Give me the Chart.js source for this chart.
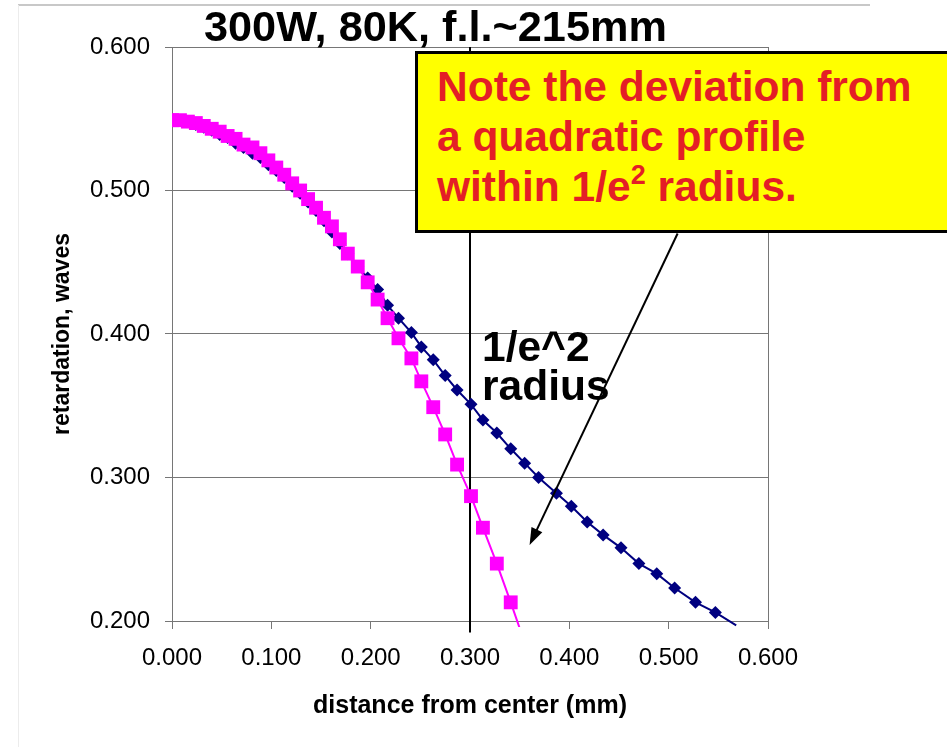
<!DOCTYPE html>
<html>
<head>
<meta charset="utf-8">
<script src="https://cdn.jsdelivr.net/npm/chart.js@4.4.0/dist/chart.umd.min.js"></script>
<style>
  html, body { margin: 0; padding: 0; background: #fff; }
  #wrap { position: relative; width: 947px; height: 747px; overflow: hidden; }
  #title { position: absolute; left: 204px; top: 6px; font: bold 42px "Liberation Sans", Arial, sans-serif; line-height: 42px;
           white-space: nowrap; color: #000; transform: scaleX(1.03); transform-origin: left top; }
  #note { position: absolute; left: 415px; top: 51px; width: 560px; height: 182px; box-sizing: border-box;
          background: #ffff00; border: 3px solid #000; color: #e41e26; white-space: nowrap;
          font: bold 42.5px "Liberation Sans", Arial, sans-serif; line-height: 50px; padding: 8px 0 0 19px; }
  #note .sup { font-size: 27px; position: relative; top: -17px; }
  #radius { position: absolute; left: 482px; top: 327px; font: bold 42.5px "Liberation Sans", Arial, sans-serif; line-height: 39px; white-space: nowrap; color: #000; }
</style>
</head>
<body>
<div id="wrap">
  <canvas id="chart" width="947" height="747"></canvas>
  <div id="title">300W, 80K, f.l.~215mm</div>
  <div id="note">Note the deviation from<br>a quadratic profile<br>within 1/e<span class="sup">2</span> radius.</div>
  <div id="radius">1/e^2<br>radius</div>
</div>
<script>
// distance from center (mm), shared by both series
var distance = [0.000, 0.008, 0.016, 0.024, 0.032, 0.040, 0.048, 0.056, 0.064, 0.072,
                0.081, 0.089, 0.097, 0.105, 0.113, 0.121, 0.129, 0.137, 0.145, 0.153,
                0.161, 0.169, 0.177, 0.187, 0.197, 0.207, 0.217, 0.228, 0.241, 0.251,
                0.263, 0.275, 0.287, 0.301, 0.313, 0.327, 0.341, 0.355, 0.369, 0.387,
                0.402, 0.418, 0.434, 0.452, 0.470, 0.488, 0.506, 0.527, 0.547, 0.568];

// navy diamonds
var retardNavy = [0.549, 0.549, 0.548, 0.546, 0.544, 0.542, 0.539, 0.537, 0.533, 0.530,
                  0.526, 0.523, 0.518, 0.514, 0.509, 0.503, 0.498, 0.492, 0.486, 0.479,
                  0.471, 0.463, 0.456, 0.447, 0.439, 0.431, 0.420, 0.411, 0.401, 0.391,
                  0.382, 0.371, 0.361, 0.351, 0.340, 0.331, 0.320, 0.310, 0.300, 0.289,
                  0.280, 0.269, 0.260, 0.251, 0.240, 0.233, 0.223, 0.213, 0.206, 0.197];

// magenta squares
var retardMagenta = [0.549, 0.549, 0.548, 0.547, 0.545, 0.543, 0.541, 0.538, 0.536, 0.532,
                     0.530, 0.526, 0.521, 0.516, 0.511, 0.505, 0.500, 0.494, 0.488, 0.481,
                     0.475, 0.466, 0.456, 0.447, 0.436, 0.424, 0.411, 0.397, 0.383, 0.367,
                     0.349, 0.330, 0.309, 0.287, 0.265, 0.240, 0.213, 0.185];

// 1/e^2 radius marker
var radiusX = [0.3, 0.3];
var radiusY = [0.6, 0.192];

var xTicks = [0, 0.1, 0.2, 0.3, 0.4, 0.5, 0.6];
var yTicks = [0.2, 0.3, 0.4, 0.5, 0.6];

function pts(xs, ys) {
    var out = [];
    for (var i = 0; i < ys.length; i++) out.push({ x: xs[i], y: ys[i] });
    return out;
}

var FONT = "'Liberation Sans', Arial, sans-serif";
var GRID = '#767676';

// hide markers that fall below the axis (line still runs a bit past it)
function markerSize(r) {
    return function(c) { return c.raw && c.raw.y < 0.2 ? 0 : r; };
}

var frame = {
    id: 'frame',
    beforeDraw: function(chart) {
        var ctx = chart.ctx;
        ctx.save();
        ctx.fillStyle = '#fff';
        ctx.fillRect(0, 0, chart.width, chart.height);
        ctx.strokeStyle = '#c8c8c8';
        ctx.lineWidth = 2;
        ctx.beginPath(); ctx.moveTo(18, 5); ctx.lineTo(870, 5); ctx.stroke();
        ctx.strokeStyle = '#ececec';
        ctx.lineWidth = 1;
        ctx.beginPath(); ctx.moveTo(18.5, 5); ctx.lineTo(18.5, chart.height); ctx.stroke();
        ctx.restore();
    },
    beforeDatasetsDraw: function(chart) {
        var a = chart.chartArea, ctx = chart.ctx;
        ctx.save();
        ctx.strokeStyle = GRID;
        ctx.lineWidth = 1;
        ctx.strokeRect(Math.round(a.left) + 0.5, Math.round(a.top) + 0.5,
                       Math.round(a.right - a.left), Math.round(a.bottom - a.top));
        ctx.restore();
    },
    afterDatasetsDraw: function(chart) {
        // arrow from the note box down to the gap between the curves
        var xs = chart.scales.x, ys = chart.scales.y, ctx = chart.ctx;
        var x0 = xs.getPixelForValue(0.509), y0 = ys.getPixelForValue(0.470);
        var x1 = xs.getPixelForValue(0.360), y1 = ys.getPixelForValue(0.253);
        var dx = x1 - x0, dy = y1 - y0, len = Math.sqrt(dx * dx + dy * dy);
        var ux = dx / len, uy = dy / len;
        ctx.save();
        ctx.strokeStyle = '#000';
        ctx.fillStyle = '#000';
        ctx.lineWidth = 2;
        ctx.beginPath();
        ctx.moveTo(x0, y0);
        ctx.lineTo(x1 - ux * 12, y1 - uy * 12);
        ctx.stroke();
        ctx.beginPath();
        ctx.moveTo(x1, y1);
        ctx.lineTo(x1 - ux * 17 - uy * 6, y1 - uy * 17 + ux * 6);
        ctx.lineTo(x1 - ux * 17 + uy * 6, y1 - uy * 17 - ux * 6);
        ctx.closePath();
        ctx.fill();
        ctx.restore();
    }
};

new Chart(document.getElementById('chart').getContext('2d'), {
    type: 'scatter',
    data: {
        datasets: [{
            label: 'magenta',
            data: pts(distance, retardMagenta),
            showLine: true,
            borderColor: '#ff00ff',
            borderWidth: 2,
            backgroundColor: '#ff00ff',
            pointStyle: 'rect',
            pointRadius: markerSize(9.8),
            pointBorderWidth: 0,
            clip: { left: 0, top: 0, right: 0, bottom: 6 }
        }, {
            label: 'navy',
            data: pts(distance, retardNavy),
            showLine: true,
            borderColor: '#000080',
            borderWidth: 2,
            backgroundColor: '#000080',
            pointStyle: 'rectRot',
            pointRadius: markerSize(6.5),
            pointBorderWidth: 0,
            clip: { left: 0, top: 0, right: 0, bottom: 6 }
        }, {
            label: 'radius',
            data: pts(radiusX, radiusY),
            showLine: true,
            borderColor: '#000',
            borderWidth: 2,
            pointRadius: 0,
            clip: { left: 0, top: 0, right: 0, bottom: 12 }
        }]
    },
    options: {
        responsive: false,
        animation: false,
        devicePixelRatio: 1,
        layout: { padding: { left: 49, top: 47, right: 179, bottom: 26 } },
        plugins: { legend: { display: false }, title: { display: false }, tooltip: { enabled: false } },
        scales: {
            x: {
                type: 'linear', min: 0, max: 0.6,
                afterFit: function(s) { s.height = 100; },
                afterBuildTicks: function(s) { s.ticks = xTicks.map(function(v) { return { value: v }; }); },
                ticks: { color: '#000', font: { family: FONT, size: 24 }, padding: 15,
                         callback: function(v) { return v.toFixed(3); } },
                grid: { drawOnChartArea: false, tickLength: 8, color: GRID },
                border: { color: GRID },
                title: { display: true, text: 'distance from center (mm)', color: '#000',
                         font: { family: FONT, size: 25, weight: 'bold' }, padding: { top: 14, bottom: 0 } }
            },
            y: {
                type: 'linear', min: 0.2, max: 0.6,
                afterFit: function(s) { s.width = 123; },
                afterBuildTicks: function(s) { s.ticks = yTicks.map(function(v) { return { value: v }; }); },
                ticks: { color: '#000', font: { family: FONT, size: 24 }, padding: 15,
                         callback: function(v) { return v.toFixed(3); } },
                grid: { tickLength: 7, color: GRID },
                border: { color: GRID },
                title: { display: true, text: 'retardation, waves', color: '#000',
                         font: { family: FONT, size: 23, weight: 'bold' }, padding: 0 }
            }
        }
    },
    plugins: [frame]
});
</script>
</body>
</html>
